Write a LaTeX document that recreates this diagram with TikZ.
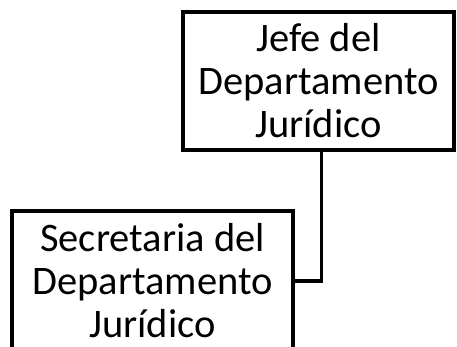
\documentclass[tikz,border=0pt]{standalone}
\usepackage{fontspec}
\setmainfont{Carlito}
\begin{document}
\begin{tikzpicture}[x=1pt,y=-1pt,
    cargo/.style={shape=rectangle,draw=black,line width=3.5pt,inner sep=0pt,
        align=center,font=\fontsize{40.5}{43}\selectfont}]
        \useasboundingbox (0,0) rectangle (457,347);
        \clip (0,0) rectangle (457,347);
        \node[cargo,minimum width=271pt,minimum height=138pt] (jefe) at (318.5,81) {Jefe del\\Departamento\\Jurídico};
        \node[cargo,minimum width=281pt,minimum height=140pt] (secretaria) at (152.5,281) {Secretaria del\\Departamento\\Jurídico};
        \draw[line width=3.5pt] ([xshift=3pt]jefe.south) |- (secretaria.east);
\end{tikzpicture}
\end{document}
